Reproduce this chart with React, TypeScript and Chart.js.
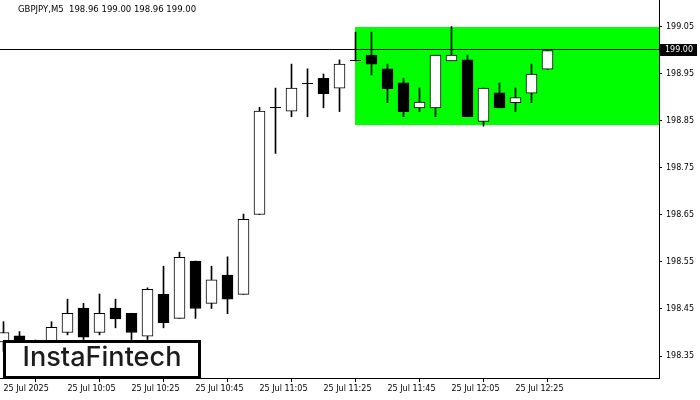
import React, { useEffect, useRef } from "react";
import { Chart, registerables } from "chart.js";

Chart.register(...registerables);

const TITLE = "GBPJPY,M5  198.96 199.00 198.96 199.00";
const LOGO_TEXT = "InstaFintech";

const OPEN = [
  198.38, 198.393, 198.372, 198.375, 198.4, 198.452, 198.4, 198.452, 198.441, 198.392,
  198.481, 198.43, 198.552, 198.462, 198.522, 198.481, 198.651, 198.879, 198.871, 198.93,
  198.941, 198.92, 198.98, 198.99, 198.961, 198.931, 198.878, 198.878, 198.978, 198.98,
  198.849, 198.91, 198.889, 198.909, 198.96,
];
const HIGH = [
  198.423, 198.402, 198.384, 198.423, 198.471, 198.462, 198.482, 198.471, 198.441, 198.495,
  198.541, 198.571, 198.552, 198.541, 198.561, 198.652, 198.879, 198.92, 198.971, 198.961,
  198.95, 198.98, 199.039, 199.039, 198.971, 198.941, 198.92, 198.99, 199.051, 198.99,
  198.92, 198.931, 198.92, 198.971, 199.0,
];
const LOW = [
  198.36, 198.36, 198.35, 198.365, 198.395, 198.385, 198.395, 198.41, 198.385, 198.385,
  198.41, 198.43, 198.43, 198.451, 198.44, 198.481, 198.651, 198.781, 198.859, 198.859,
  198.878, 198.87, 198.978, 198.948, 198.889, 198.859, 198.87, 198.859, 198.978, 198.859,
  198.839, 198.878, 198.87, 198.889, 198.96,
];
const CLOSE = [
  198.4, 198.372, 198.378, 198.411, 198.441, 198.39, 198.441, 198.429, 198.4, 198.492,
  198.421, 198.56, 198.451, 198.512, 198.471, 198.641, 198.871, 198.879, 198.92, 198.93,
  198.908, 198.971, 198.98, 198.971, 198.919, 198.87, 198.89, 198.99, 198.99, 198.859,
  198.92, 198.878, 198.9, 198.95, 199.0,
];

const TIME_LABELS = [
  "25 Jul 2025",
  "25 Jul 10:05",
  "25 Jul 10:25",
  "25 Jul 10:45",
  "25 Jul 11:05",
  "25 Jul 11:25",
  "25 Jul 11:45",
  "25 Jul 12:05",
  "25 Jul 12:25",
];
const LABEL_EVERY = 4;

const PRICE_TICKS = [198.35, 198.45, 198.55, 198.65, 198.75, 198.85, 198.95, 199.05];
const LAST_PRICE = 199.0;

const ZONE_START = 22;
const ZONE_HIGH = 199.05;
const ZONE_LOW = 198.842;

const Y_MIN = 198.3032;
const Y_MAX = 199.1074;
const X_MIN = -0.21875;
const X_MAX = 40.96875;

const AXIS_FONT = { family: "DejaVu Sans", size: 8 };

export default function App() {
  const ref = useRef<HTMLCanvasElement | null>(null);

  useEffect(() => {
    document.body.style.margin = "0";
    const canvas = ref.current;
    if (!canvas) return;

    const idx = OPEN.map((_, i) => i);
    const bodies = idx.map((i) => ({ x: i, y: [Math.min(OPEN[i], CLOSE[i]), Math.max(OPEN[i], CLOSE[i])] }));
    const wicks = idx.map((i) => ({ x: i, y: [LOW[i], HIGH[i]] }));
    const bodyColors = idx.map((i) => (CLOSE[i] >= OPEN[i] ? "#ffffff" : "#000000"));

    const overlay = {
      id: "overlay",
      beforeDatasetsDraw(chart: any) {
        const { ctx, chartArea, scales } = chart;
        const x = scales.x;
        const y = scales.y;
        ctx.save();
        ctx.fillStyle = "#00ff00";
        const x0 = Math.floor(x.getPixelForValue(ZONE_START));
        const yt = Math.round(y.getPixelForValue(ZONE_HIGH));
        const yb = Math.round(y.getPixelForValue(ZONE_LOW));
        ctx.fillRect(x0, yt, chartArea.right - x0, yb - yt);
        const py = Math.floor(y.getPixelForValue(LAST_PRICE)) + 0.5;
        ctx.strokeStyle = "#000000";
        ctx.lineWidth = 1;
        ctx.beginPath();
        ctx.moveTo(chartArea.left, py - 1);
        ctx.lineTo(chartArea.right, py - 1);
        ctx.stroke();
        ctx.restore();
      },
      afterDatasetsDraw(chart: any) {
        // doji crosses: open equals close, draw a crisp horizontal tick
        const { ctx, scales } = chart;
        const x = scales.x;
        const y = scales.y;
        ctx.save();
        ctx.strokeStyle = "#000000";
        ctx.lineWidth = 1;
        idx.forEach((i) => {
          if (OPEN[i] !== CLOSE[i]) return;
          const cx = x.getPixelForValue(i);
          const cy = Math.round(y.getPixelForValue(OPEN[i])) + 0.5;
          ctx.beginPath();
          ctx.moveTo(cx - 5.5, cy);
          ctx.lineTo(cx + 5.5, cy);
          ctx.stroke();
        });
        ctx.restore();
      },
      afterDraw(chart: any) {
        const { ctx, chartArea, scales } = chart;
        const y = scales.y;
        ctx.save();
        // last price label
        const py = Math.floor(y.getPixelForValue(LAST_PRICE));
        ctx.fillStyle = "#000000";
        ctx.fillRect(chartArea.right + 1, py - 6, 37, 12);
        ctx.fillStyle = "#ffffff";
        ctx.font = "8px 'DejaVu Sans'";
        ctx.textBaseline = "middle";
        ctx.textAlign = "left";
        ctx.fillText(LAST_PRICE.toFixed(2), chartArea.right + 6, py);
        // title
        ctx.fillStyle = "#000000";
        ctx.font = "8.5px 'DejaVu Sans'";
        ctx.fillText(TITLE, 18, 10);
        // logo
        ctx.fillStyle = "#ffffff";
        ctx.fillRect(3, 340, 198, 39);
        ctx.strokeStyle = "#000000";
        ctx.lineWidth = 3;
        ctx.strokeRect(4.5, 341.5, 195, 36);
        let size = 24;
        ctx.font = `500 ${size}px Inter`;
        const w = ctx.measureText(LOGO_TEXT).width;
        size = (size * 159) / w;
        ctx.font = `500 ${size}px Inter`;
        ctx.fillStyle = "#1c1c1c";
        ctx.textAlign = "center";
        ctx.textBaseline = "alphabetic";
        ctx.fillText(LOGO_TEXT, 102, 366);
        ctx.restore();
      },
    };

    const chart = new Chart(canvas, {
      type: "bar",
      data: {
        datasets: [
          {
            data: bodies as any,
            backgroundColor: bodyColors,
            borderColor: "#000000",
            borderWidth: 1,
            borderSkipped: false,
            barThickness: 11,
            grouped: false,
            order: 0,
          } as any,
          {
            data: wicks as any,
            backgroundColor: "#000000",
            borderWidth: 0,
            barThickness: 1,
            grouped: false,
            order: 1,
          } as any,
        ],
      },
      options: {
        responsive: false,
        animation: false,
        events: [],
        layout: { padding: 0, autoPadding: false } as any,
        plugins: {
          legend: { display: false },
          tooltip: { enabled: false },
          title: { display: false },
        },
        scales: {
          x: {
            type: "linear",
            min: X_MIN,
            max: X_MAX,
            offset: false,
            border: { display: true, color: "#000000", width: 1 },
            grid: { display: true, drawOnChartArea: false, drawTicks: true, tickLength: 4, color: "#000000" },
            ticks: {
              autoSkip: false,
              maxRotation: 0,
              minRotation: 0,
              align: "start",
              padding: 2,
              color: "#000000",
              font: AXIS_FONT,
              callback: (_v: any, i: number) => TIME_LABELS[i] ?? "",
            },
            afterBuildTicks: (scale: any) => {
              scale.ticks = TIME_LABELS.map((_, i) => ({ value: i * LABEL_EVERY }));
            },
            afterFit: (scale: any) => {
              scale.height = 22;
              scale.paddingLeft = 0;
              scale.paddingRight = 0;
            },
          },
          y: {
            type: "linear",
            position: "right",
            min: Y_MIN,
            max: Y_MAX,
            border: { display: true, color: "#000000", width: 1 },
            grid: { display: true, drawOnChartArea: false, drawTicks: true, tickLength: 3, color: "#000000" },
            ticks: {
              autoSkip: false,
              padding: 4,
              color: "#000000",
              font: AXIS_FONT,
              callback: (v: any) => Number(v).toFixed(2),
            },
            afterBuildTicks: (scale: any) => {
              scale.ticks = PRICE_TICKS.map((v) => ({ value: v }));
            },
            afterFit: (scale: any) => {
              scale.width = 41;
              scale.paddingTop = 0;
              scale.paddingBottom = 0;
            },
          },
        },
      } as any,
      plugins: [overlay],
    });

    return () => chart.destroy();
  }, []);

  return (
    <div style={{ position: "absolute", left: 0, top: 0, width: 700, height: 400, background: "#ffffff" }}>
      <canvas ref={ref} width={700} height={400} style={{ display: "block" }} />
    </div>
  );
}
